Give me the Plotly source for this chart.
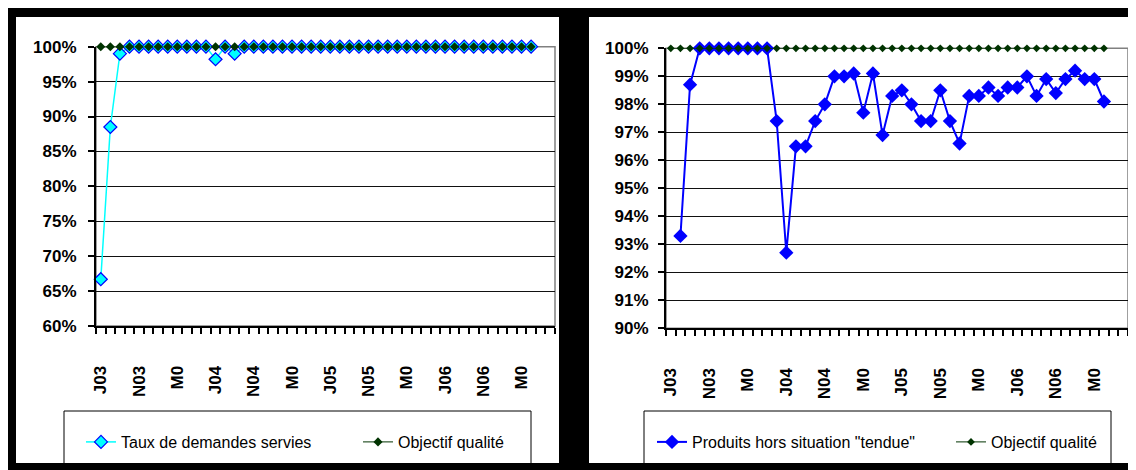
import plotly.graph_objects as go

# The page body has an 8px default margin, so the figure is drawn 8px in
# from the top-left corner of the window.
PAGE_W, PAGE_H = 1136, 470
OFFSET = 8
W, H = PAGE_W - OFFSET, PAGE_H - OFFSET

# Months Jul 2003 .. Jun 2007 (one category per month)
CATEGORIES = [
    "2003-07", "2003-08", "2003-09", "2003-10", "2003-11", "2003-12",
    "2004-01", "2004-02", "2004-03", "2004-04", "2004-05", "2004-06",
    "2004-07", "2004-08", "2004-09", "2004-10", "2004-11", "2004-12",
    "2005-01", "2005-02", "2005-03", "2005-04", "2005-05", "2005-06",
    "2005-07", "2005-08", "2005-09", "2005-10", "2005-11", "2005-12",
    "2006-01", "2006-02", "2006-03", "2006-04", "2006-05", "2006-06",
    "2006-07", "2006-08", "2006-09", "2006-10", "2006-11", "2006-12",
    "2007-01", "2007-02", "2007-03", "2007-04", "2007-05", "2007-06",
]
LABELLED_MONTHS = [
    "2003-07", "2003-11", "2004-03", "2004-07", "2004-11", "2005-03",
    "2005-07", "2005-11", "2006-03", "2006-07", "2006-11", "2007-03",
]
TICK_LABELS = ["J03", "N03", "M0", "J04", "N04", "M0",
               "J05", "N05", "M0", "J06", "N06", "M0"]

# Left chart: taux de demandes servies (%)
TAUX_SERVIES = [
    66.7, 88.5, 99.0, 100, 100, 100, 100, 100, 100, 100,
    100, 100, 98.2, 100, 99.0, 100, 100, 100, 100, 100,
    100, 100, 100, 100, 100, 100, 100, 100, 100, 100,
    100, 100, 100, 100, 100, 100, 100, 100, 100, 100,
    100, 100, 100, 100, 100, 100,
]

# Right chart: produits hors situation "tendue" (%)
PRODUITS_HORS_TENDUE = [
    None, 93.3, 98.7, 100, 100, 100, 100, 100, 100, 100,
    100, 97.4, 92.7, 96.5, 96.5, 97.4, 98.0, 99.0, 99.0, 99.1,
    97.7, 99.1, 96.9, 98.3, 98.5, 98.0, 97.4, 97.4, 98.5, 97.4,
    96.6, 98.3, 98.3, 98.6, 98.3, 98.6, 98.6, 99.0, 98.3, 98.9,
    98.4, 98.9, 99.2, 98.9, 98.9, 98.1,
]

# Objectif qualité (%)
OBJECTIF = [
    100, 100, 100, 100, 100, 100, 100, 100, 100, 100,
    100, 100, 100, 100, 100, 100, 100, 100, 100, 100,
    100, 100, 100, 100, 100, 100, 100, 100, 100, 100,
    100, 100, 100, 100, 100, 100, 100, 100, 100, 100,
    100, 100, 100, 100, 100, 100,
]

Y1_TICKS = [60, 65, 70, 75, 80, 85, 90, 95, 100]
Y2_TICKS = [90, 91, 92, 93, 94, 95, 96, 97, 98, 99, 100]

FONT = "Liberation Sans, Arial, sans-serif"
GREEN = "#003300"


# positions below are given in window pixels
def px_x(v):
    return (v - OFFSET) / W


def px_y(v):
    return 1 - (v - OFFSET) / H


def xpos(values):
    return list(range(len(values)))


fig = go.Figure()

fig.add_trace(go.Scatter(
    x=xpos(TAUX_SERVIES), y=TAUX_SERVIES, name="Taux de demandes servies",
    mode="lines+markers", xaxis="x", yaxis="y", legend="legend",
    line=dict(color="#00FFFF", width=1.5),
    marker=dict(symbol="diamond", size=10, color="#00FFFF",
                line=dict(color="#0000FF", width=1.2)),
    cliponaxis=False,
))
fig.add_trace(go.Scatter(
    x=xpos(OBJECTIF), y=OBJECTIF, name="Objectif qualité",
    mode="lines+markers", xaxis="x", yaxis="y", legend="legend2",
    line=dict(color=GREEN, width=1),
    marker=dict(symbol="diamond", size=7, color=GREEN),
    cliponaxis=False,
))
fig.add_trace(go.Scatter(
    x=xpos(PRODUITS_HORS_TENDUE), y=PRODUITS_HORS_TENDUE,
    name='Produits hors situation "tendue"',
    mode="lines+markers", xaxis="x2", yaxis="y2", legend="legend3",
    line=dict(color="#0000FF", width=2),
    marker=dict(symbol="diamond", size=11, color="#0000FF"),
    cliponaxis=False,
))
fig.add_trace(go.Scatter(
    x=xpos(OBJECTIF), y=OBJECTIF, name="Objectif qualité",
    mode="lines+markers", xaxis="x2", yaxis="y2", legend="legend4",
    line=dict(color=GREEN, width=1),
    marker=dict(symbol="diamond", size=6, color=GREEN),
    cliponaxis=False,
))

tickvals = [CATEGORIES.index(m) for m in LABELLED_MONTHS]

xaxis_common = dict(
    range=[-0.5, len(CATEGORIES) - 0.5],
    tickmode="array", tickvals=tickvals, ticktext=TICK_LABELS,
    tickangle=-90, ticks="", showgrid=False, zeroline=False,
    showline=True, linecolor="black", linewidth=2,
    tickfont=dict(family=FONT, size=17, color="black", weight="bold"),
    ticklabelstandoff=31,
    minor=dict(tickmode="linear", tick0=-0.5, dtick=1, ticks="outside",
               ticklen=6, tickcolor="black", tickwidth=1.5, showgrid=False),
)
yaxis_common = dict(
    tickmode="array", ticks="outside", ticklen=6,
    tickcolor="black", tickwidth=1.5,
    showgrid=True, gridcolor="#111111", gridwidth=1, zeroline=False,
    showline=True, linecolor="black", linewidth=2,
    tickfont=dict(family=FONT, size=17, color="black", weight="bold"),
)


def legend_at(x, y):
    return dict(
        orientation="h", x=px_x(x), y=px_y(y), xanchor="left", yanchor="middle",
        bgcolor="rgba(0,0,0,0)", borderwidth=0,
        font=dict(family=FONT, size=16, color="black"),
    )


fig.update_layout(
    width=W, height=H,
    margin=dict(l=0, r=0, t=0, b=0, autoexpand=False),
    paper_bgcolor="white", plot_bgcolor="white",
    showlegend=True,
    xaxis=dict(domain=[px_x(96), px_x(555)], anchor="y", **xaxis_common),
    yaxis=dict(domain=[px_y(326), px_y(46.7)], anchor="x",
               range=[60, 100], tickvals=Y1_TICKS,
               ticktext=[f"{v}%" for v in Y1_TICKS], ticklabelstandoff=8,
               **yaxis_common),
    xaxis2=dict(domain=[px_x(666), px_x(1128)], anchor="y2", **xaxis_common),
    yaxis2=dict(domain=[px_y(328.3), px_y(48.3)], anchor="x2",
                range=[90, 100], tickvals=Y2_TICKS,
                ticktext=[f"{v}%" for v in Y2_TICKS], ticklabelstandoff=6,
                **yaxis_common),
    legend=legend_at(81, 442),
    legend2=legend_at(358, 442),
    legend3=legend_at(652, 442),
    legend4=legend_at(951, 442),
)

shapes = []
# grey plot-area borders
for xr, yr in (("x domain", "y domain"), ("x2 domain", "y2 domain")):
    shapes.append(dict(type="rect", xref=xr, yref=yr, x0=0, x1=1, y0=0, y1=1,
                       line=dict(color="#808080", width=1.5), layer="below"))
# legend boxes
for x0, x1 in ((64, 531), (644, 1111)):
    shapes.append(dict(type="rect", xref="paper", yref="paper",
                       x0=px_x(x0), x1=px_x(x1), y0=px_y(480), y1=px_y(411),
                       line=dict(color="black", width=1), fillcolor="white",
                       layer="below"))
# black frame around the two charts
for x0, y0, x1, y1 in ((0, 0, PAGE_W, 17), (0, 0, 16, PAGE_H),
                       (559, 0, 589, PAGE_H), (0, 463, PAGE_W, PAGE_H)):
    shapes.append(dict(type="rect", xref="paper", yref="paper",
                       x0=px_x(x0), x1=px_x(x1), y0=px_y(y1), y1=px_y(y0),
                       line=dict(width=0), fillcolor="black", layer="above"))
fig.update_layout(shapes=shapes)

fig.write_html("out.html")
